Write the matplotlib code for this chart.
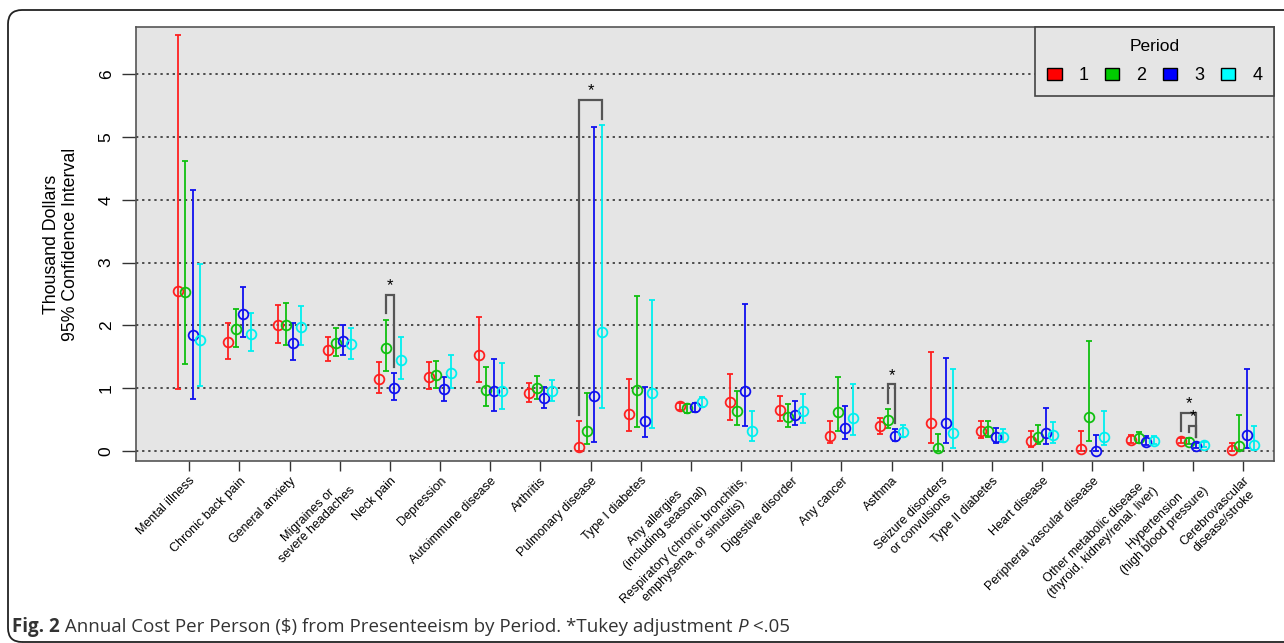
import matplotlib
matplotlib.use('Agg')
import matplotlib.pyplot as plt
from matplotlib.patches import Patch, FancyBboxPatch
from matplotlib.transforms import IdentityTransform
import numpy as np

plt.rcParams['font.family'] = ['Liberation Sans', 'DejaVu Sans']

categories = ['Mental illness', 'Chronic back pain', 'General anxiety',
              'Migraines or\nsevere headaches', 'Neck pain', 'Depression',
              'Autoimmune disease', 'Arthritis', 'Pulmonary disease',
              'Type I diabetes', 'Any allergies\n(including seasonal)',
              'Respiratory (chronic bronchitis,\nemphysema, or sinusitis)',
              'Digestive disorder', 'Any cancer', 'Asthma',
              'Seizure disorders\nor convulsions', 'Type II diabetes',
              'Heart disease', 'Peripheral vascular disease',
              'Other metabolic disease\n(thyroid, kidney/renal, liver)',
              'Hypertension\n(high blood pressure)',
              'Cerebrovascular\ndisease/stroke']
periods = ['1', '2', '3', '4']
colors = ['#ff2020', '#10c010', '#1010f0', '#00f0f0']
legend_colors = ['#ff0000', '#00cc00', '#0000ff', '#00ffff']

# thousand dollars: mean and 95% CI per period
mean_p1 = [2.55, 1.74, 2.00, 1.61, 1.15, 1.18, 1.52, 0.92, 0.07, 0.59, 0.71,
           0.78, 0.65, 0.24, 0.39, 0.45, 0.32, 0.16, 0.03, 0.18, 0.16, 0.02]
low_p1 = [0.98, 1.47, 1.72, 1.43, 0.93, 0.99, 1.09, 0.78, 0.00, 0.31, 0.65,
          0.49, 0.48, 0.12, 0.27, 0.12, 0.20, 0.06, 0.00, 0.12, 0.13, 0.00]
up_p1 = [6.63, 2.03, 2.32, 1.82, 1.42, 1.41, 2.13, 1.08, 0.47, 1.15, 0.77,
         1.23, 0.88, 0.47, 0.52, 1.57, 0.47, 0.31, 0.32, 0.25, 0.21, 0.12]

mean_p2 = [2.53, 1.94, 2.00, 1.72, 1.64, 1.21, 0.97, 1.00, 0.32, 0.97, 0.68,
           0.64, 0.54, 0.62, 0.49, 0.05, 0.32, 0.23, 0.54, 0.21, 0.15, 0.085]
low_p2 = [1.39, 1.66, 1.69, 1.51, 1.27, 1.00, 0.71, 0.82, 0.11, 0.38, 0.60,
          0.41, 0.38, 0.32, 0.36, 0.00, 0.22, 0.11, 0.16, 0.13, 0.11, 0.02]
up_p2 = [4.61, 2.26, 2.36, 1.95, 2.09, 1.44, 1.34, 1.20, 0.93, 2.47, 0.75,
         0.96, 0.75, 1.17, 0.66, 0.27, 0.48, 0.42, 1.75, 0.30, 0.20, 0.57]

mean_p3 = [1.85, 2.18, 1.72, 1.75, 1.00, 0.98, 0.96, 0.84, 0.88, 0.47, 0.70,
           0.96, 0.57, 0.37, 0.24, 0.44, 0.22, 0.28, 0.005, 0.15, 0.085, 0.26]
low_p3 = [0.82, 1.82, 1.45, 1.52, 0.81, 0.80, 0.64, 0.69, 0.14, 0.22, 0.62,
          0.39, 0.41, 0.19, 0.16, 0.12, 0.13, 0.11, 0.00, 0.09, 0.05, 0.04]
up_p3 = [4.16, 2.61, 2.03, 2.01, 1.24, 1.18, 1.46, 1.02, 5.15, 1.02, 0.77,
         2.34, 0.80, 0.71, 0.35, 1.48, 0.36, 0.68, 0.25, 0.24, 0.12, 1.30]

mean_p4 = [1.76, 1.86, 1.97, 1.70, 1.45, 1.24, 0.96, 0.95, 1.90, 0.93, 0.78,
           0.32, 0.64, 0.52, 0.30, 0.28, 0.23, 0.25, 0.23, 0.16, 0.10, 0.10]
low_p4 = [1.04, 1.59, 1.68, 1.47, 1.15, 1.01, 0.66, 0.79, 0.69, 0.36, 0.70,
          0.16, 0.44, 0.25, 0.22, 0.05, 0.15, 0.13, 0.09, 0.11, 0.07, 0.02]
up_p4 = [2.97, 2.20, 2.31, 1.95, 1.82, 1.52, 1.40, 1.13, 5.19, 2.41, 0.86,
         0.63, 0.91, 1.06, 0.41, 1.30, 0.35, 0.46, 0.63, 0.24, 0.14, 0.40]

means = [mean_p1, mean_p2, mean_p3, mean_p4]
lows = [low_p1, low_p2, low_p3, low_p4]
ups = [up_p1, up_p2, up_p3, up_p4]

# Tukey significant pairs: (category index, period a, period b, bracket rise)
sig_pairs = [(4, 1, 2, 0.4), (8, 0, 3, 0.4), (14, 1, 2, 0.4),
             (20, 0, 2, 0.4), (20, 1, 2, 0.2)]

fig = plt.figure(figsize=(12.84, 6.43), dpi=100)
ax = fig.add_axes([136/1284, 1-461/643, (1274-136)/1284, (461-27)/643])
ax.set_facecolor('#e5e5e5')

x = np.arange(len(categories))
offsets = [-0.225, -0.075, 0.075, 0.225]

for yv in range(7):
    ax.axhline(yv, color='#222222', lw=1.1, ls=(0, (1.5, 2.5)), zorder=1)

for i in range(4):
    m = np.array(means[i])
    lo = np.array(lows[i])
    hi = np.array(ups[i])
    ax.errorbar(x + offsets[i], m, yerr=[m - lo, hi - m], fmt='o',
                color=colors[i], mfc='none', mec=colors[i], ms=7, mew=1.3,
                elinewidth=1.3, capsize=2, capthick=1.2, zorder=3)

for c, a, b, rise in sig_pairs:
    xa = c + offsets[a]
    xb = c + offsets[b]
    ta = ups[a][c]
    tb = ups[b][c]
    top = max(ta, tb) + rise
    ax.plot([xa, xa, xb, xb], [ta + 0.1, top, top, tb + 0.1],
            color='#555555', lw=1.6, zorder=4, solid_joinstyle='miter')
    ax.text((xa + xb) / 2, top + 0.02, '*', ha='center', va='bottom',
            fontsize=12, color='black', zorder=5)

ax.set_xlim(-1.06, 21.62)
ax.set_ylim(-0.16, 6.75)
ax.set_yticks(range(7))
ax.set_yticklabels([str(v) for v in range(7)], rotation=90, va='center',
                   fontsize=12.5)
ax.set_xticks(x)
ax.set_xticklabels(categories, rotation=45, ha='right',
                   rotation_mode='anchor', fontsize=9, multialignment='center')
ax.tick_params(axis='y', length=10, width=1, color='#333333', pad=6)
ax.tick_params(axis='x', length=7, width=1, color='#333333', pad=3)
for s in ax.spines.values():
    s.set_color('#555555')
    s.set_linewidth(1.2)

ax.set_ylabel('Thousand Dollars\n95% Confidence Interval', fontsize=12.8,
              labelpad=14, linespacing=1.15)

handles = [Patch(facecolor=legend_colors[i], edgecolor='black', lw=1)
           for i in range(4)]
leg = ax.legend(handles, periods, title='Period', ncol=4, loc='upper right',
                bbox_to_anchor=(1, 1), borderaxespad=0, fancybox=False,
                edgecolor='#444444', facecolor='#e5e5e5', framealpha=1,
                fontsize=13, title_fontsize=12.5, handlelength=0.8,
                handleheight=0.65, handletextpad=0.95, columnspacing=0.9,
                borderpad=0.65, labelspacing=0.75)
leg.get_frame().set_linewidth(1.2)

# rounded figure border
fig.add_artist(FancyBboxPatch((8, 1), 1310, 632,
                              boxstyle='round,pad=0,rounding_size=14',
                              transform=IdentityTransform(), fill=False,
                              edgecolor='#222222', lw=1.3))

# caption
fig.canvas.draw()
r = fig.canvas.get_renderer()
pieces = [('Fig. 2', 'bold', 'normal'),
          (' Annual Cost Per Person ($) from Presenteeism by Period. *Tukey adjustment ', 'normal', 'normal'),
          ('P', 'normal', 'italic'),
          (' <.05', 'normal', 'normal')]
xpos = 12
for txt, wt, st in pieces:
    t = fig.text(xpos / 1284, 1 - 632 / 643, txt, fontsize=13.5,
                 family='Open Sans', weight=wt, style=st, color='#333333',
                 ha='left', va='baseline')
    bb = t.get_window_extent(renderer=r)
    xpos += bb.width

fig.savefig('out.png', dpi=100)
